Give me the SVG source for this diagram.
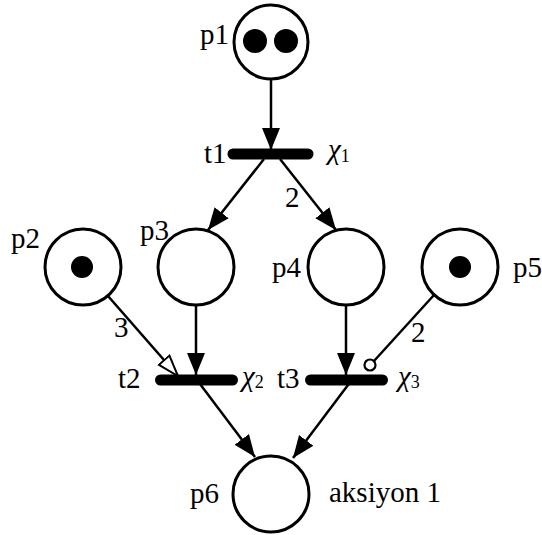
<svg xmlns="http://www.w3.org/2000/svg" width="542" height="535" viewBox="0 0 542 535" font-family="Liberation Serif">
<style>
.place{fill:#fff;stroke:#000;stroke-width:3}
.tok{fill:#000}
.bar{stroke:#000;stroke-width:11;stroke-linecap:round}
.arc{stroke:#000;stroke-width:2.5;fill:none}
</style>
<defs>
<marker id="ah" markerUnits="userSpaceOnUse" markerWidth="24" markerHeight="20" refX="22" refY="9" orient="auto"><path d="M0,0 L22,9 L0,18 z" fill="#000"/></marker>
<marker id="oh" markerUnits="userSpaceOnUse" markerWidth="26" markerHeight="20" refX="22" refY="8" orient="auto"><path d="M1,1 L22,8 L1,15 z" fill="#fff" stroke="#000" stroke-width="2"/></marker>
</defs>
<rect width="542" height="535" fill="#fff"/>
<g id="connectors">
<line class="arc" x1="271" y1="80" x2="271" y2="150" marker-end="url(#ah)"/>
<line class="arc" x1="264" y1="159" x2="208" y2="230" marker-end="url(#ah)"/>
<line class="arc" x1="280" y1="159" x2="336" y2="230" marker-end="url(#ah)"/>
<line class="arc" x1="108" y1="296" x2="178" y2="376" marker-end="url(#oh)"/>
<line class="arc" x1="196" y1="305" x2="196" y2="375" marker-end="url(#ah)"/>
<line class="arc" x1="346" y1="305" x2="346" y2="375" marker-end="url(#ah)"/>
<line class="arc" x1="434" y1="295" x2="374" y2="361"/>
<circle cx="370" cy="365" r="5.5" fill="#fff" stroke="#000" stroke-width="2.2"/>
<line class="arc" x1="197" y1="380" x2="255" y2="457" marker-end="url(#ah)"/>
<line class="arc" x1="351" y1="381" x2="293" y2="458" marker-end="url(#ah)"/>
<text x="285" y="207" style="font-family:'Liberation Serif',serif;font-size:29px">2</text>
<text x="114" y="337" style="font-family:'Liberation Serif',serif;font-size:29px">3</text>
<text x="411" y="342" style="font-family:'Liberation Serif',serif;font-size:29px">2</text>
</g>
<g id="p1"><circle class="place" cx="271" cy="42" r="37"/><circle class="tok" cx="255" cy="41" r="12"/><circle class="tok" cx="286" cy="41" r="12"/><text x="200" y="44" style="font-family:'Liberation Serif',serif;font-size:29px">p1</text></g>
<g id="t1"><line class="bar" x1="233" y1="154" x2="308" y2="154"/><text x="204" y="163" style="font-family:'Liberation Serif',serif;font-size:29px">t1</text><text x="328" y="159" style="font-family:'Liberation Serif',serif;font-size:29px;font-style:italic">χ<tspan style="font-style:normal;font-size:18px" y="162">1</tspan></text></g>
<g id="p2"><circle class="place" cx="83" cy="267" r="38"/><circle class="tok" cx="82" cy="267" r="11"/><text x="11" y="248" style="font-family:'Liberation Serif',serif;font-size:29px">p2</text></g>
<g id="p3"><circle class="place" cx="196" cy="267" r="38"/><text x="140" y="240" style="font-family:'Liberation Serif',serif;font-size:29px">p3</text></g>
<g id="p4"><circle class="place" cx="346" cy="267" r="38"/><text x="272" y="277" style="font-family:'Liberation Serif',serif;font-size:29px">p4</text></g>
<g id="p5"><circle class="place" cx="460" cy="267" r="38"/><circle class="tok" cx="460" cy="267" r="11"/><text x="513" y="277" style="font-family:'Liberation Serif',serif;font-size:29px">p5</text></g>
<g id="t2"><line class="bar" x1="160.5" y1="380" x2="232.5" y2="380"/><text x="118" y="388" style="font-family:'Liberation Serif',serif;font-size:29px">t2</text><text x="242" y="386" style="font-family:'Liberation Serif',serif;font-size:29px;font-style:italic">χ<tspan style="font-style:normal;font-size:18px" y="388">2</tspan></text></g>
<g id="t3"><line class="bar" x1="310.5" y1="380" x2="382.5" y2="380"/><text x="277" y="388" style="font-family:'Liberation Serif',serif;font-size:29px">t3</text><text x="398" y="386" style="font-family:'Liberation Serif',serif;font-size:29px;font-style:italic">χ<tspan style="font-style:normal;font-size:18px" y="388">3</tspan></text></g>
<g id="p6"><circle class="place" cx="271" cy="494" r="38"/><text x="190" y="503" style="font-family:'Liberation Serif',serif;font-size:29px">p6</text><text x="329" y="502" style="font-family:'Liberation Serif',serif;font-size:29px">aksiyon 1</text></g>
</svg>
